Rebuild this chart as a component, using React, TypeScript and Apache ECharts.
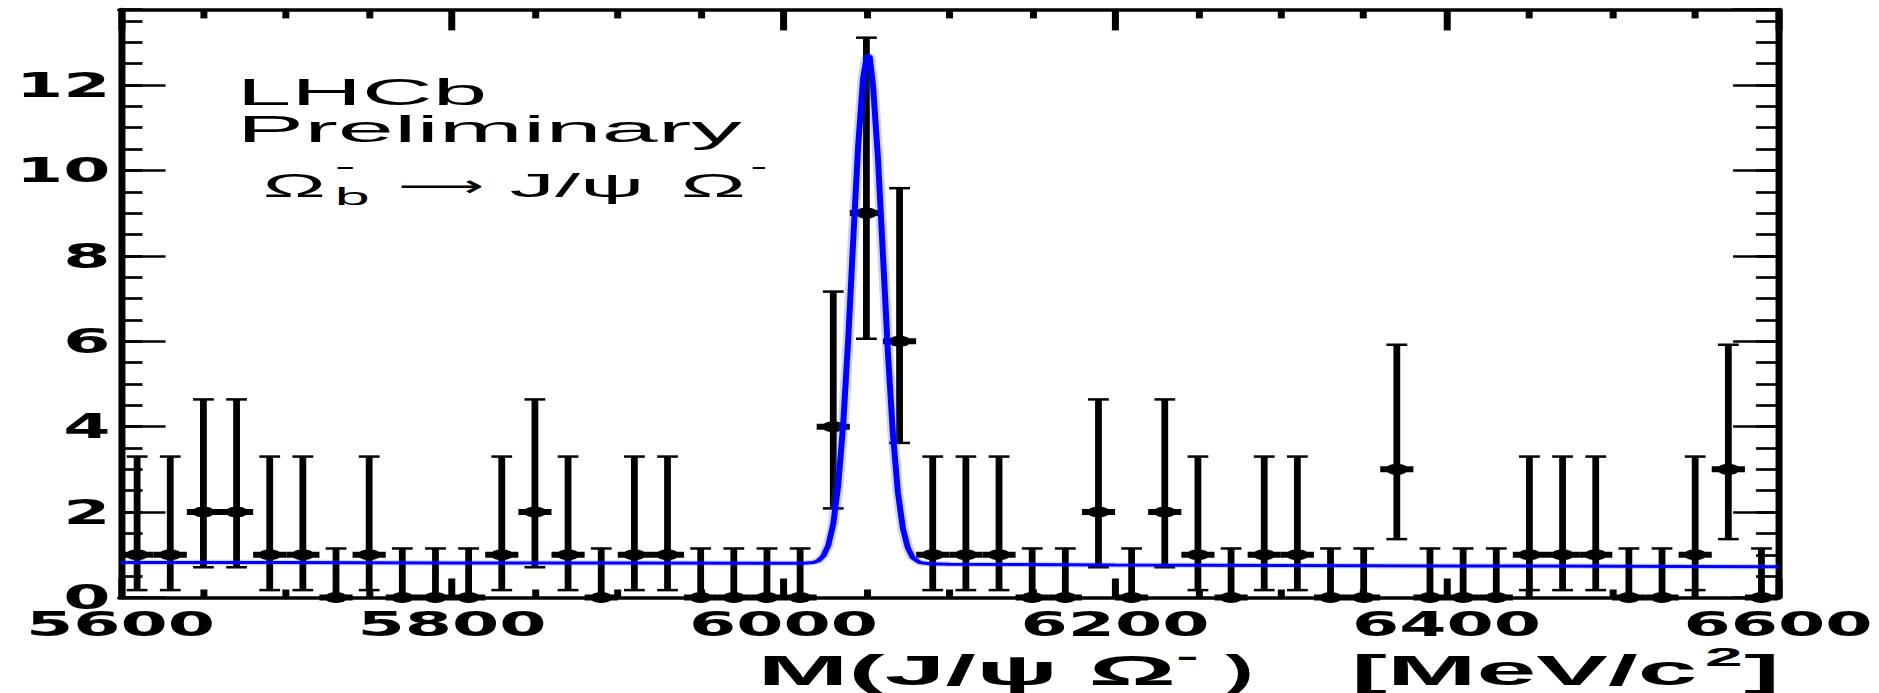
import React, { useEffect, useRef } from "react";
import * as echarts from "echarts";

// ---- data ----
const binCenters = [
  5610, 5630, 5650, 5670, 5690, 5710, 5730, 5750, 5770, 5790,
  5810, 5830, 5850, 5870, 5890, 5910, 5930, 5950, 5970, 5990,
  6010, 6030, 6050, 6070, 6090, 6110, 6130, 6150, 6170, 6190,
  6210, 6230, 6250, 6270, 6290, 6310, 6330, 6350, 6370, 6390,
  6410, 6430, 6450, 6470, 6490, 6510, 6530, 6550, 6570, 6590,
];
const binCounts = [
  1, 1, 2, 2, 1, 1, 0, 1, 0, 0,
  0, 1, 2, 1, 0, 1, 1, 0, 0, 0,
  0, 4, 9, 6, 1, 1, 1, 0, 0, 2,
  0, 2, 1, 0, 1, 1, 0, 0, 3, 0,
  0, 0, 1, 1, 1, 0, 0, 1, 3, 0,
];
const binHalfWidth = 10;
// lower / upper ends of the error bars, indexed by the bin count
const errLowByCount = [0, 0.173, 0.708, 1.367, 2.086, 2.84, 3.62, 4.419, 5.232, 6.058];
const errHighByCount = [1.148, 3.3, 4.638, 5.918, 7.163, 8.382, 9.584, 10.77, 11.95, 13.108];

// fitted curve, points
const fitMass = [
  5600, 5700, 5800, 5900, 6000, 6012, 6018, 6021, 6024, 6027, 6030, 6033, 6036,
  6039, 6042, 6045, 6048, 6050, 6051, 6052, 6054, 6057, 6060, 6063, 6066, 6069,
  6072, 6075, 6078, 6082, 6088, 6100, 6200, 6300, 6400, 6500, 6600,
];
const fitValue = [
  0.82, 0.82, 0.81, 0.81, 0.8, 0.8, 0.82, 0.86, 0.97, 1.22, 1.72, 2.63, 4.06,
  6.02, 8.34, 10.56, 12.16, 12.62, 12.7, 12.66, 11.98, 10.27, 8.0, 5.72, 3.82, 2.46,
  1.62, 1.16, 0.93, 0.82, 0.79, 0.78, 0.76, 0.75, 0.74, 0.73, 0.72,
];

const xTicks = [5600, 5800, 6000, 6200, 6400, 6600];
const yTicks = [0, 2, 4, 6, 8, 10, 12];
const xRange = [5600, 6600];
const yRange = [0, 13.77];

// ---- layout ----
const W = 940;
const H = 693;
const STRETCH = 1879 / W;
const FONT = '"Liberation Sans", Arial, Helvetica, sans-serif';

function txt(
  text: string,
  x: number,
  y: number,
  fontSize: number,
  scaleX: number,
  bold = false,
  family = FONT
) {
  return {
    type: "text",
    x,
    y,
    scaleX,
    silent: true,
    style: {
      text,
      fontSize,
      fontFamily: family,
      fontWeight: bold ? "bold" : "normal",
      fill: "#000",
      align: "left",
      verticalAlign: "middle",
      textAlign: "left",
      textVerticalAlign: "middle",
    },
  };
}

export default function App() {
  const ref = useRef<HTMLDivElement>(null);

  useEffect(() => {
    if (!ref.current) return;
    const chart = echarts.init(ref.current, undefined, { renderer: "svg" });

    const black = "#000";
    const axisLine = { show: true, onZero: false, lineStyle: { color: black, width: 3.5 } };
    const labelStyle = {
      color: black,
      fontFamily: '"DejaVu Sans", sans-serif',
      fontWeight: "bold",
      fontSize: 34,
      lineHeight: 26,
    };

    const dataPoints = binCenters.map((m, i) => [
      m,
      binCounts[i],
      errLowByCount[binCounts[i]],
      errHighByCount[binCounts[i]],
    ]);
    const fitPoints = fitMass.map((m, i) => [m, fitValue[i]]);

    const xBase = {
      type: "value",
      min: xRange[0],
      max: xRange[1],
      interval: 200,
      axisLine,
      splitLine: { show: false },
      minorSplitLine: { show: false },
    };
    const yBase = {
      type: "value",
      min: yRange[0],
      max: yRange[1],
      splitLine: { show: false },
    };

    const option: any = {
      animation: false,
      backgroundColor: "#fff",
      grid: { left: 60.3, right: 50.5, top: 9.4, bottom: 95.5, show: false },
      xAxis: [
        {
          ...xBase,
          position: "bottom",
          axisTick: { show: true, inside: true, length: 19, lineStyle: { color: black, width: 3.5 } },
          minorTick: { show: true, splitNumber: 4, length: 8, lineStyle: { color: black, width: 3.5 } },
          axisLabel: {
            show: true,
            margin: 14,
            ...labelStyle,
            formatter: (v: number) => (xTicks.includes(v) ? String(v) : ""),
          },
        },
        {
          ...xBase,
          position: "top",
          axisTick: { show: true, inside: true, length: 21, lineStyle: { color: black, width: 3.5 } },
          minorTick: { show: true, splitNumber: 4, length: 9, lineStyle: { color: black, width: 3.5 } },
          axisLabel: { show: false },
        },
      ],
      yAxis: [
        {
          ...yBase,
          position: "left",
          interval: 2,
          axisLine,
          axisTick: { show: true, inside: true, length: 22.5, lineStyle: { color: black, width: 2.7 } },
          axisLabel: {
            show: true,
            margin: 5,
            showMaxLabel: false,
            ...labelStyle,
            formatter: (v: number) => (yTicks.includes(v) ? String(v) : ""),
          },
        },
        {
          ...yBase,
          position: "right",
          interval: 2,
          axisLine,
          axisTick: { show: true, inside: true, length: 22.5, lineStyle: { color: black, width: 2.7 } },
          axisLabel: { show: false },
        },
        {
          ...yBase,
          position: "left",
          interval: 0.5,
          axisLine: { show: false },
          axisTick: { show: true, inside: true, length: 11, lineStyle: { color: black, width: 2.7 } },
          axisLabel: { show: false },
        },
        {
          ...yBase,
          position: "right",
          interval: 0.5,
          axisLine: { show: false },
          axisTick: { show: true, inside: true, length: 11, lineStyle: { color: black, width: 2.7 } },
          axisLabel: { show: false },
        },
      ],
      series: [
        {
          name: "data",
          type: "custom",
          xAxisIndex: 0,
          yAxisIndex: 0,
          clip: false,
          z: 2,
          encode: { x: 0, y: 1 },
          data: dataPoints,
          renderItem: (_params: any, api: any) => {
            const x = api.value(0) as number;
            const v = api.value(1) as number;
            const lo = api.value(2) as number;
            const hi = api.value(3) as number;
            const c = api.coord([x, v]);
            const l = api.coord([x - binHalfWidth, v]);
            const r = api.coord([x + binHalfWidth, v]);
            const pLo = api.coord([x, lo]);
            const pHi = api.coord([x, hi]);
            const cap = 5.2;
            return {
              type: "group",
              children: [
                {
                  type: "line",
                  shape: { x1: c[0], y1: pLo[1], x2: c[0], y2: pHi[1] },
                  style: { stroke: black, lineWidth: 3.4 },
                },
                {
                  type: "line",
                  shape: { x1: c[0] - cap, y1: pHi[1], x2: c[0] + cap, y2: pHi[1] },
                  style: { stroke: black, lineWidth: 2.5 },
                },
                {
                  type: "line",
                  shape: { x1: c[0] - cap, y1: pLo[1], x2: c[0] + cap, y2: pLo[1] },
                  style: { stroke: black, lineWidth: 2.5 },
                },
                {
                  type: "line",
                  shape: { x1: l[0], y1: c[1], x2: r[0], y2: c[1] },
                  style: { stroke: black, lineWidth: 6 },
                },
                {
                  type: "circle",
                  shape: { cx: c[0], cy: c[1], r: 5.5 },
                  style: { fill: black },
                },
              ],
            };
          },
        },
        {
          name: "fit-glow",
          type: "line",
          xAxisIndex: 0,
          yAxisIndex: 0,
          data: fitPoints,
          symbol: "none",
          showSymbol: false,
          silent: true,
          z: 4,
          lineStyle: { color: "rgba(70,70,255,0.25)", width: 5.5 },
        },
        {
          name: "fit",
          type: "line",
          xAxisIndex: 0,
          yAxisIndex: 0,
          data: fitPoints,
          symbol: "none",
          showSymbol: false,
          silent: true,
          z: 5,
          lineStyle: { color: "#0000ff", width: 3 },
        },
      ],
      graphic: [
        txt("LHCb", 118.5, 91.9, 37.7, 1.3),
        txt("Preliminary", 118.5, 128.9, 37.7, 1.34),
        txt("Ω", 131.5, 185.4, 33.5, 1.26),
        txt("b", 167.5, 196.5, 24.6, 1.28),
        txt("-", 167.5, 166, 25, 1.25),
        txt("⟶", 199, 186, 30, 1.0, false, '"DejaVu Sans", sans-serif'),
        txt("J/ψ", 255, 185.4, 33.5, 1.35),
        txt("Ω", 340.5, 185.4, 33.5, 1.3),
        txt("-", 375.5, 166, 25, 1.0),
        // axis title
        txt("M(J/ψ Ω", 379, 670.1, 43, 1.27, true),
        txt("-", 588.5, 655.9, 28, 1.2, true),
        txt(")", 613, 670.1, 43, 1.0, true),
        txt("[MeV/c", 676, 670.1, 43, 1.25, true),
        txt("2", 853, 657.5, 26, 1.3, true),
        txt("]", 872.5, 670.1, 43, 1.25, true),
      ],
    };

    chart.setOption(option);
    return () => {
      chart.dispose();
    };
  }, []);

  return (
    <div
      ref={ref}
      style={{
        position: "absolute",
        left: 0,
        top: 0,
        width: W,
        height: H,
        transform: `scaleX(${STRETCH})`,
        transformOrigin: "0 0",
        background: "#fff",
      }}
    />
  );
}
